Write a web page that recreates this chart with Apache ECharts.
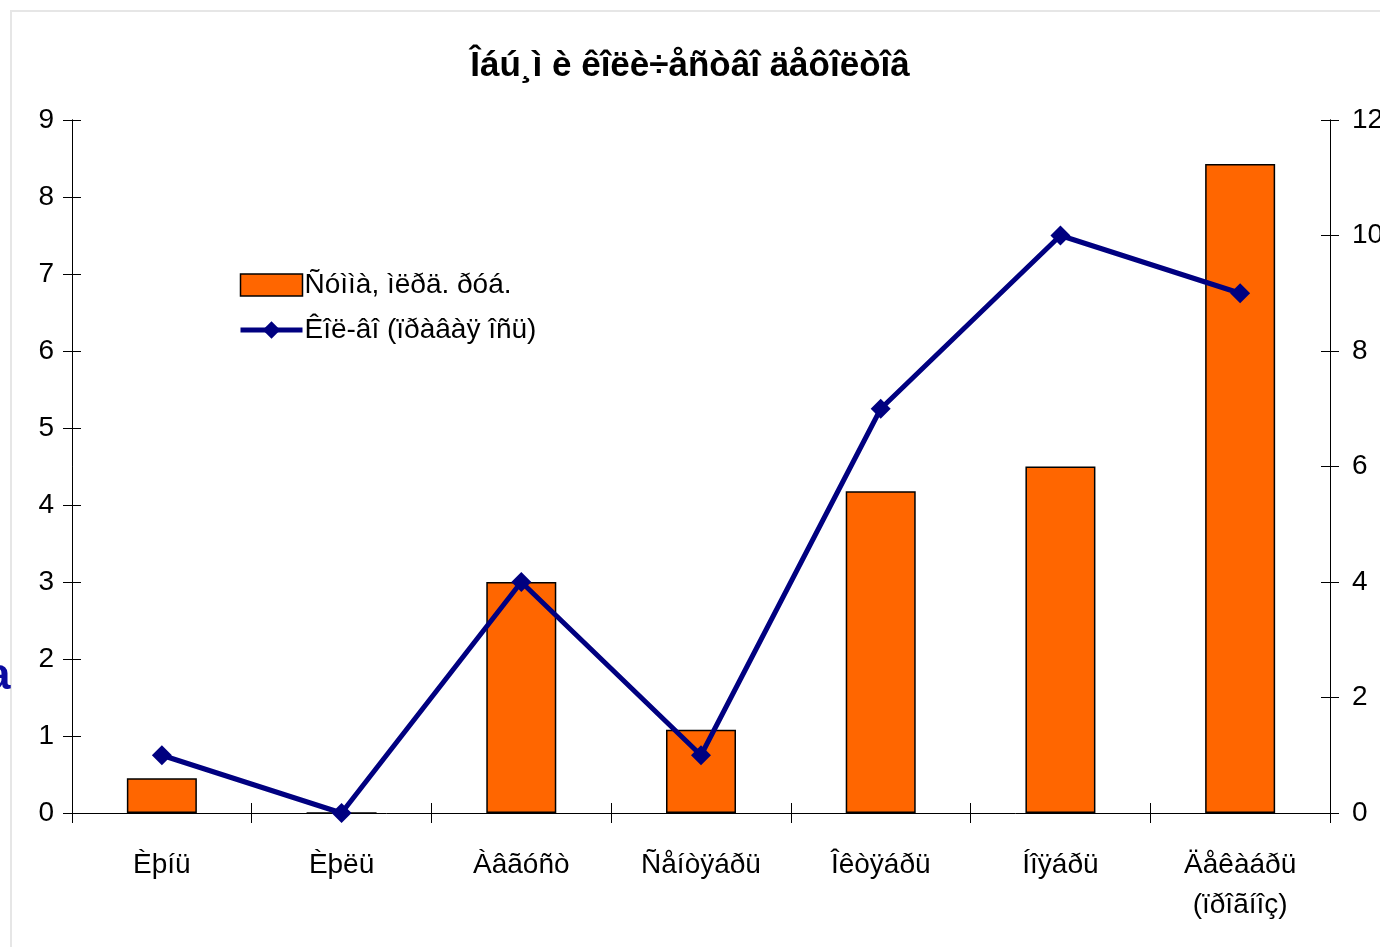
<!DOCTYPE html>
<html>
<head>
<meta charset="utf-8">
<script src="https://cdn.jsdelivr.net/npm/echarts@6/dist/echarts.min.js"></script>
<style>
html,body{margin:0;padding:0;background:#fff;}
#chart{width:1380px;height:947px;}
</style>
</head>
<body>
<div id="chart"></div>
<script>
var titleText = 'Îáú¸ì è êîëè÷åñòâî äåôîëòîâ';
var categories = ['Èþíü', 'Èþëü', 'Àâãóñò', 'Ñåíòÿáðü', 'Îêòÿáðü', 'Íîÿáðü', 'Äåêàáðü\n(ïðîãíîç)'];
var barName = 'Ñóììà, ìëðä. ðóá.';
var lineName = 'Êîë-âî (ïðàâàÿ îñü)';
var barValues = [0.45, 0, 3.0, 1.08, 4.18, 4.5, 8.43];
var lineValues = [1, 0, 4, 1, 7, 10, 9];
var leftTicks = {min: 0, max: 9, interval: 1};
var rightTicks = {min: 0, max: 12, interval: 2};

var chart = echarts.init(document.getElementById('chart'));
var font = 'Liberation Sans, Arial, sans-serif';
var axisLine = {show: true, lineStyle: {color: '#000', width: 1}};
function yAx(pos, t, inside, showLabel) {
  return {
    type: 'value', position: pos, min: t.min, max: t.max, interval: t.interval,
    axisLine: axisLine,
    axisTick: {show: true, inside: inside, length: 9, lineStyle: {color: '#000'}},
    axisLabel: {show: showLabel, color: '#000', fontSize: 28, fontFamily: font, margin: pos === 'left' ? 18 : 22},
    splitLine: {show: false}
  };
}
var option = {
  backgroundColor: '#fff',
  animation: false,
  title: {
    text: titleText, left: 'center', top: 44,
    textStyle: {fontFamily: font, fontWeight: 'bold', fontSize: 35, color: '#000'}
  },
  graphic: [
    {type: 'rect', shape: {x: 11, y: 11, width: 1400, height: 1000}, style: {fill: 'none', stroke: '#e6e6e6', lineWidth: 2}, z: -1},
    {type: 'text', left: -14, top: 655, style: {text: 'a', fill: '#0a0aa0', font: 'bold 44px ' + font}}
  ],
  legend: {
    orient: 'vertical', left: 233, top: 266, itemGap: 17,
    itemWidth: 62, itemHeight: 22,
    textStyle: {fontFamily: font, fontSize: 28, color: '#000', padding: [0, 0, 0, -3]},
    data: [
      {name: barName, icon: 'rect', itemStyle: {color: '#FF6600', borderColor: '#000', borderWidth: 1.5}},
      {name: lineName, itemStyle: {color: '#000080'}, lineStyle: {color: '#000080', width: 5}}
    ]
  },
  grid: {left: 72, right: 50, top: 120, bottom: 134, outerBoundsMode: 'none', containLabel: false},
  xAxis: [
    {
      type: 'category', data: categories,
      axisLine: axisLine,
      axisTick: {show: true, inside: false, length: 10, lineStyle: {color: '#000'}},
      axisLabel: {color: '#000', fontSize: 28, fontFamily: font, margin: 32, lineHeight: 40},
      splitLine: {show: false}
    },
    {
      type: 'category', data: categories, position: 'bottom',
      axisLine: {show: false},
      axisTick: {show: true, inside: true, length: 10, lineStyle: {color: '#000'}},
      axisLabel: {show: false}
    }
  ],
  yAxis: [
    yAx('left', leftTicks, false, true),
    yAx('right', rightTicks, false, true),
    yAx('left', leftTicks, true, false),
    yAx('right', rightTicks, true, false)
  ],
  series: [
    {
      name: barName, type: 'bar', data: barValues, xAxisIndex: 0, yAxisIndex: 0,
      barWidth: 70,
      itemStyle: {color: '#FF6600', borderColor: '#000', borderWidth: 1.5}
    },
    {
      name: lineName, type: 'line', data: lineValues, xAxisIndex: 0, yAxisIndex: 1,
      symbol: 'diamond', symbolSize: 20,
      lineStyle: {color: '#000080', width: 5},
      itemStyle: {color: '#000080'}
    }
  ]
};
chart.setOption(option);
</script>
</body>
</html>
